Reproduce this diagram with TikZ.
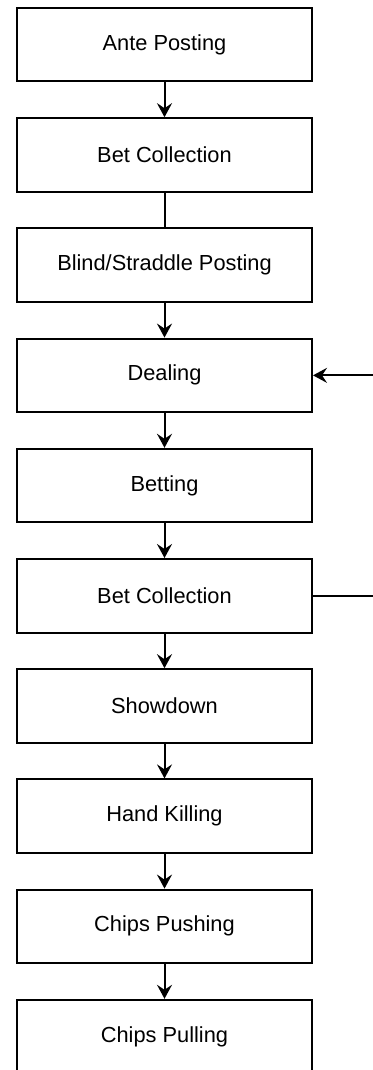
\documentclass[tikz,border=0pt]{standalone}
\usepackage{fontspec}
\setmainfont{Liberation Sans}
\usetikzlibrary{arrows.meta}

\begin{document}
\begin{tikzpicture}[x=0.5pt,y=-0.5pt,
	stage/.style={draw,line width=1pt,minimum width=147.5pt,minimum height=36.75pt,inner sep=0pt,font=\fontsize{10.9}{13}\selectfont},
	flow/.style={line width=1pt,-{Stealth[length=7pt,width=7.5pt,inset=2.5pt]}},
	link/.style={line width=1pt}]
	\useasboundingbox (0,0) rectangle (372,1070);
	\foreach \name/\txt [count=\n from 0] in {ante/Ante Posting, collA/Bet Collection, blind/{Blind/Straddle Posting}, deal/Dealing, bet/Betting, collB/Bet Collection, show/Showdown, kill/Hand Killing, push/Chips Pushing, pull/Chips Pulling}
		\node[stage] (\name) at (164.5,{44.75+110.2*\n}) {\txt};
	
	\foreach \a/\b in {ante/collA, blind/deal, deal/bet, bet/collB, collB/show, show/kill, kill/push, push/pull}
		\draw[flow] (\a) -- (\b);
	\draw[link] (collA) -- (blind);
	
	\coordinate (feedIn) at ([xshift=30pt]deal.east);
	\coordinate (feedOut) at ([xshift=30pt]collB.east);
	\draw[flow] (feedIn) -- (deal.east);
	\draw[link] (collB.east) -- (feedOut);
\end{tikzpicture}
\end{document}
